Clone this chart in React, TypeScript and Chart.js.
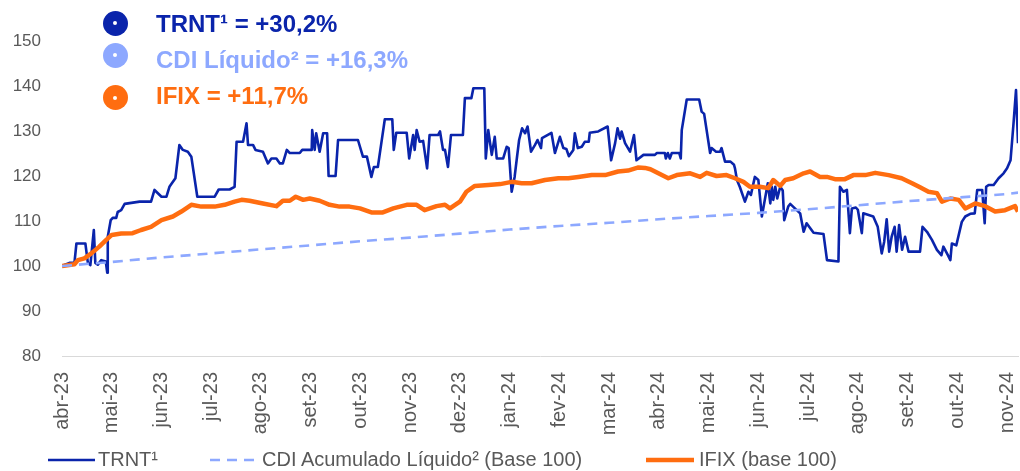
import React, { useEffect, useRef } from "react";
import { Chart, registerables } from "chart.js";

Chart.register(...registerables);

// Month labels (x = months since abr-23)
const monthLabels = [
  "abr-23", "mai-23", "jun-23", "jul-23", "ago-23", "set-23", "out-23", "nov-23", "dez-23", "jan-24",
  "fev-24", "mar-24", "abr-24", "mai-24", "jun-24", "jul-24", "ago-24", "set-24", "out-24", "nov-24",
];
const yTicks = [80, 90, 100, 110, 120, 130, 140, 150];

// TRNT¹ (base 100)
const trntMonth = [
  0, 0.15, 0.25, 0.29, 0.47, 0.52, 0.57, 0.64, 0.67, 0.72, 0.79, 0.88, 0.91, 0.92, 0.98, 1.02, 1.09, 1.12, 1.19, 1.26,
  1.56, 1.79, 1.86, 2.0, 2.1, 2.16, 2.23, 2.28, 2.36, 2.43, 2.53, 2.6, 2.72, 3.07, 3.15, 3.37, 3.47, 3.51, 3.64, 3.71,
  3.74, 3.84, 3.89, 4.04, 4.14, 4.21, 4.31, 4.38, 4.44, 4.52, 4.58, 4.78, 4.83, 5.02, 5.03, 5.08, 5.11, 5.18, 5.25, 5.33,
  5.36, 5.5, 5.55, 5.95, 6.05, 6.13, 6.22, 6.27, 6.35, 6.42, 6.49, 6.64, 6.67, 6.72, 6.93, 6.98, 7.06, 7.09, 7.13, 7.19,
  7.26, 7.34, 7.39, 7.56, 7.6, 7.66, 7.7, 7.76, 7.82, 8.06, 8.1, 8.23, 8.27, 8.49, 8.52, 8.57, 8.64, 8.7, 8.74, 8.87,
  8.94, 8.98, 9.04, 9.1, 9.14, 9.19, 9.25, 9.31, 9.36, 9.43, 9.51, 9.56, 9.63, 9.65, 9.84, 9.91, 10.01, 10.08, 10.14, 10.19,
  10.28, 10.31, 10.37, 10.45, 10.51, 10.59, 10.61, 10.78, 10.97, 11.04, 11.12, 11.17, 11.22, 11.25, 11.32, 11.42, 11.5, 11.55, 11.69, 11.92,
  11.96, 12.12, 12.14, 12.18, 12.22, 12.26, 12.41, 12.44, 12.46, 12.56, 12.81, 12.86, 12.91, 13.03, 13.06, 13.15, 13.23, 13.26, 13.33, 13.44,
  13.51, 13.53, 13.57, 13.63, 13.73, 13.8, 13.85, 13.93, 14.0, 14.07, 14.13, 14.19, 14.24, 14.27, 14.3, 14.34, 14.38, 14.44, 14.49, 14.52,
  14.6, 14.64, 14.84, 14.91, 14.97, 15.11, 15.31, 15.38, 15.61, 15.64, 15.71, 15.78, 15.84, 15.88, 15.96, 16.0, 16.08, 16.11, 16.31, 16.4,
  16.48, 16.53, 16.58, 16.63, 16.68, 16.74, 16.78, 16.83, 16.89, 16.95, 17.02, 17.25, 17.3, 17.39, 17.49, 17.59, 17.68, 17.72, 17.81, 17.86,
  17.89, 17.98, 18.09, 18.16, 18.26, 18.35, 18.4, 18.5, 18.55, 18.58, 18.63, 18.73, 18.83, 18.93, 19.0, 19.07, 19.13, 19.18, 19.22,
];
const trntValue = [
  100, 100.7, 100.7, 105, 105, 100.7, 100.2, 108, 100.7, 100.3, 101.3, 101.0, 98.5, 106.5, 110.2, 110.7, 110.7, 112, 112.4, 113.8,
  114.3, 114.3, 116.9, 115.4, 115.4, 117.6, 118.7, 119.5, 126.9, 125.8, 125.4, 124.3, 115.4, 115.4, 117, 117, 117.6, 127.6, 127.6, 131.7,
  126.9, 126.9, 125.8, 125.4, 122.8, 123.9, 123.9, 122.8, 122.8, 125.8, 125.1, 125.1, 125.8, 125.8, 130.2, 125.8, 129.5, 125.4, 129.5, 129.5,
  120, 120, 128, 128, 124.3, 124.3, 119.8, 122, 122, 127.3, 132.6, 132.6, 125.8, 129.6, 129.6, 123.9, 129.1, 125.8, 130.2, 127.6,
  127.8, 121.7, 129.1, 129.1, 129.9, 125.8, 125.8, 122, 129.1, 129.1, 137.3, 137.3, 139.5, 139.5, 123.9, 130.2, 124.7, 128.7, 123.9, 123.9,
  126.5, 126.2, 116.5, 119.8, 123.5, 128, 130.6, 129.5, 131, 125.4, 126.9, 128, 126.2, 128.4, 129.6, 125.1, 128.7, 126.2, 126.0, 124.4,
  125.8, 129.5, 126.2, 126.5, 127.6, 127.6, 129.6, 129.9, 131, 123.5, 127.3, 130.6, 128.3, 129.9, 127.3, 125.4, 129.1, 123.5, 124.7, 124.7,
  125.1, 125.1, 123.9, 125.1, 123.9, 125.1, 125.1, 123.9, 130.2, 137, 137, 134.3, 133.8, 125.1, 126.2, 125.4, 125.4, 126.2, 123.2, 123.2,
  122.5, 121.7, 119.1, 117.5, 114.3, 116.5, 115.8, 119.8, 119.1, 111, 114.7, 118.4, 113.9, 117.6, 114.7, 117.6, 115.0, 117.6, 116.8, 110.2,
  113.2, 113.8, 111.7, 107.6, 109.5, 107.4, 107.1, 101.3, 101.0, 117.6, 116.5, 116.9, 107.3, 112.8, 113.0, 112.5, 107.3, 111.7, 111.0, 108.7,
  102.8, 105.4, 110.4, 103.2, 106.5, 108.7, 103.2, 109.1, 103.6, 106.5, 103.2, 103.2, 108.7, 107.6, 105.8, 103.6, 102.4, 104.3, 102.4, 101.3,
  105.0, 104.6, 109.8, 111.0, 111.6, 111.7, 116.9, 116.9, 109.5, 117.6, 118.0, 118.0, 119.5, 120.6, 121.7, 123.5, 131.7, 139.1, 127.3,
];

// CDI Acumulado Líquido² (base 100)
const cdiMonth = [0, 1, 2, 3, 4, 5, 6, 7, 8, 9, 10, 11, 12, 13, 14, 15, 16, 17, 18, 19, 19.22];
const cdiValue = [
  100, 100.9, 101.9, 102.8, 103.7, 104.6, 105.5, 106.3, 107.2, 108.1, 108.9, 109.6, 110.4, 111.1, 111.8, 112.6, 113.5,
  114.4, 115.2, 116.0, 116.3,
];

// IFIX (base 100)
const ifixMonth = [
  0, 0.25, 0.32, 0.45, 0.59, 0.75, 0.89, 1.0, 1.19, 1.42, 1.59, 1.79, 2.0, 2.23, 2.4, 2.6, 2.8, 3.07, 3.27, 3.47,
  3.61, 3.77, 4.04, 4.31, 4.44, 4.58, 4.7, 4.85, 4.98, 5.18, 5.38, 5.58, 5.78, 5.99, 6.22, 6.45, 6.66, 6.93, 7.13, 7.29,
  7.53, 7.7, 7.8, 8.0, 8.13, 8.3, 8.57, 8.81, 9.04, 9.24, 9.44, 9.71, 9.98, 10.18, 10.38, 10.65, 10.92, 11.18, 11.38, 11.59,
  11.72, 11.83, 11.99, 12.19, 12.36, 12.63, 12.83, 12.96, 13.16, 13.36, 13.53, 13.7, 13.83, 14.03, 14.2, 14.3, 14.44, 14.54, 14.7, 14.91,
  15.04, 15.24, 15.38, 15.54, 15.74, 15.91, 16.15, 16.35, 16.62, 16.88, 17.09, 17.25, 17.42, 17.59, 17.69, 17.86, 18.03, 18.16, 18.36, 18.56,
  18.76, 18.96, 19.16, 19.22,
];
const ifixValue = [
  100, 100.4, 101.3, 101.7, 102.8, 104.3, 105.8, 106.9, 107.2, 107.3, 108, 108.7, 110.2, 111, 112.1, 113.6, 113.2, 113.2, 113.6, 114.3,
  114.7, 114.5, 113.9, 113.3, 114.5, 114.5, 115.4, 114.7, 115.0, 114.5, 113.6, 113.2, 113.2, 112.8, 111.9, 111.9, 112.8, 113.6, 113.6, 112.4,
  113.3, 113.6, 112.8, 114.3, 116.5, 117.8, 118, 118.2, 118.7, 118.4, 118.4, 119.1, 119.5, 119.5, 119.8, 120.2, 120.2, 121, 121.2, 121.9,
  121.8, 121.5, 120.6, 119.5, 120.2, 120.6, 119.8, 120.7, 120, 120.2, 119.5, 118.7, 117.6, 117.6, 117.3, 119.1, 117.8, 119.1, 119.5, 120.6,
  121, 119.8, 119.8, 119.3, 119.3, 120.2, 120.2, 120.7, 120.2, 119.5, 118.4, 117.5, 116.5, 116.2, 114.3, 115.0, 114.7, 112.8, 113.9, 113.3,
  112.1, 112.4, 113.3, 112.1,
];

const COLOR_TRNT = "#0A24AB";
const COLOR_CDI = "#8DA8FF";
const COLOR_IFIX = "#FF6D10";
const GRAY = "#595959";
const FONT = "'Liberation Sans', Arial, sans-serif";

const toPoints = (xs: number[], ys: number[]) => xs.map((x, i) => ({ x, y: ys[i] }));

const topLegend = [
  { color: COLOR_TRNT, text: "TRNT¹ = +30,2%", cy: 23, ty: 24 },
  { color: COLOR_CDI, text: "CDI Líquido² = +16,3%", cy: 55, ty: 59.5 },
  { color: COLOR_IFIX, text: "IFIX = +11,7%", cy: 97.5, ty: 96 },
];

export default function App() {
  const canvasRef = useRef<HTMLCanvasElement | null>(null);

  useEffect(() => {
    if (!canvasRef.current) return;
    const chart = new Chart(canvasRef.current, {
      type: "line",
      data: {
        datasets: [
          {
            label: "TRNT¹",
            data: toPoints(trntMonth, trntValue),
            borderColor: COLOR_TRNT,
            borderWidth: 2.6,
            pointRadius: 0,
            borderJoinStyle: "round",
            order: 3,
          },
          {
            label: "CDI Acumulado Líquido² (Base 100)",
            data: toPoints(cdiMonth, cdiValue),
            borderColor: COLOR_CDI,
            borderWidth: 2.6,
            borderDash: [10, 7],
            pointRadius: 0,
            order: 1,
          },
          {
            label: "IFIX (base 100)",
            data: toPoints(ifixMonth, ifixValue),
            borderColor: COLOR_IFIX,
            borderWidth: 4.5,
            pointRadius: 0,
            borderJoinStyle: "round",
            order: 2,
          },
        ],
      },
      options: {
        animation: false,
        responsive: false,
        maintainAspectRatio: false,
        layout: { padding: { top: 41, right: 2, bottom: 0, left: 0 } },
        plugins: { legend: { display: false }, tooltip: { enabled: false } },
        scales: {
          x: {
            type: "linear",
            min: 0,
            max: 19.22,
            afterBuildTicks: (s: any) => {
              s.ticks = monthLabels.map((_, i) => ({ value: i }));
            },
            afterFit: (s: any) => {
              s.height = 115;
              s.paddingLeft = 0;
              s.paddingRight = 0;
            },
            grid: { display: true, color: "transparent", drawTicks: false },
            border: { display: true, color: "#D9D9D9", width: 1 },
            ticks: {
              autoSkip: false,
              minRotation: 90,
              maxRotation: 90,
              padding: 16,
              color: GRAY,
              font: { family: FONT, size: 20 },
              callback: (v: any) => monthLabels[Math.round(v)] ?? "",
            },
          },
          y: {
            min: 80,
            max: 150,
            afterBuildTicks: (s: any) => {
              s.ticks = yTicks.map((v) => ({ value: v }));
            },
            afterFit: (s: any) => {
              s.width = 62;
            },
            grid: { display: false, drawTicks: false },
            border: { display: false },
            ticks: {
              padding: 21,
              color: GRAY,
              font: { family: FONT, size: 17 },
            },
          },
        },
      },
    });
    return () => chart.destroy();
  }, []);

  return (
    <div style={{ position: "fixed", left: 0, top: 0, width: 1020, height: 471, background: "#fff", fontFamily: FONT }}>
      <canvas ref={canvasRef} width={1020} height={471} style={{ position: "absolute", left: 0, top: 0 }} />
      {topLegend.map((r, i) => (
        <React.Fragment key={i}>
          <div
            style={{
              position: "absolute",
              left: 115 - 12.5,
              top: r.cy - 12.5,
              width: 25,
              height: 25,
              borderRadius: "50%",
              background: r.color,
            }}
          >
            <div
              style={{
                position: "absolute",
                left: 10.5,
                top: 10.5,
                width: 4,
                height: 4,
                borderRadius: "50%",
                background: "#fff",
              }}
            />
          </div>
          <div
            style={{
              position: "absolute",
              left: 156,
              top: r.ty - 15,
              lineHeight: "30px",
              fontSize: 24,
              fontWeight: 700,
              color: r.color,
              whiteSpace: "nowrap",
            }}
          >
            {r.text}
          </div>
        </React.Fragment>
      ))}
      <svg style={{ position: "absolute", left: 0, top: 0 }} width={1020} height={471}>
        <line x1={48} y1={460} x2={95} y2={460} stroke={COLOR_TRNT} strokeWidth={2.6} />
        <line x1={210} y1={460} x2={257} y2={460} stroke={COLOR_CDI} strokeWidth={2.6} strokeDasharray="10 7" />
        <line x1={646} y1={460} x2={694} y2={460} stroke={COLOR_IFIX} strokeWidth={4.5} />
      </svg>
      {[
        { x: 98, t: "TRNT¹" },
        { x: 262, t: "CDI Acumulado Líquido² (Base 100)" },
        { x: 699, t: "IFIX (base 100)" },
      ].map((l, i) => (
        <div
          key={i}
          style={{
            position: "absolute",
            left: l.x,
            top: 446.7,
            lineHeight: "24px",
            fontSize: 20,
            color: GRAY,
            whiteSpace: "nowrap",
          }}
        >
          {l.t}
        </div>
      ))}
    </div>
  );
}
